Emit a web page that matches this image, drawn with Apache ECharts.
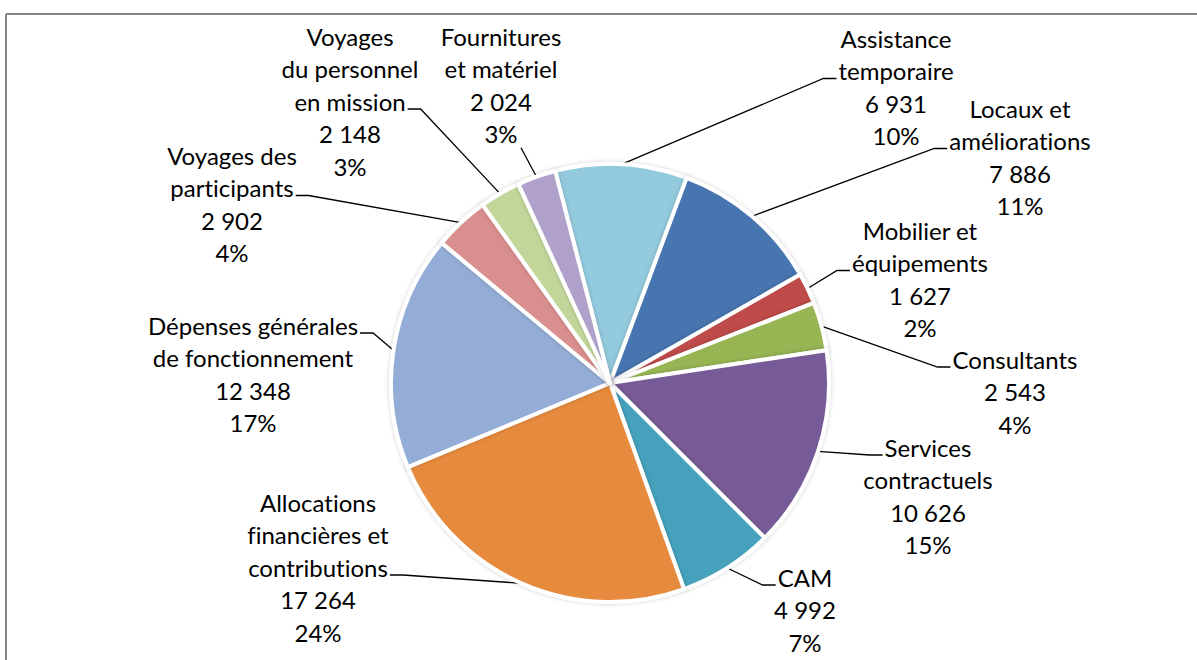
<!DOCTYPE html>
<html><head><meta charset="utf-8">
<script src="https://cdn.jsdelivr.net/npm/echarts@6/dist/echarts.min.js"></script>
<style>html,body{margin:0;padding:0;background:#fff}#c{width:1197px;height:660px}#c svg text{font-variant-ligatures:none;text-rendering:optimizeSpeed}</style>
</head><body><div id="c"></div>
<script>
const categories = ['Assistance temporaire','Locaux et améliorations','Mobilier et équipements','Consultants','Services contractuels','CAM','Allocations financières et contributions','Dépenses générales de fonctionnement','Voyages des participants','Voyages du personnel en mission','Fournitures et matériel'];
const values = [6931, 7886, 1627, 2543, 10626, 4992, 17264, 12348, 2902, 2148, 2024];
const wrappedNames = [['Assistance','temporaire'],['Locaux et','améliorations'],['Mobilier et','équipements'],['Consultants'],['Services','contractuels'],['CAM'],['Allocations','financières et','contributions'],['Dépenses générales','de fonctionnement'],['Voyages des','participants'],['Voyages','du personnel','en mission'],['Fournitures','et matériel']];
const colors = ['#93CADD','#4674B0','#BE4B48','#97B552','#775A98','#45A1BC','#E68A3E','#93ADD6','#D98F8E','#C2D69A','#AFA1C9'];

// label placement: centre x, first line centre y, line the leader joins, side it joins
const labelPlace = [
  {x: 896, y: 38, hook: 1, side: 'left'},
  {x: 1020, y: 108, hook: 1, side: 'left'},
  {x: 920, y: 230, hook: 1, side: 'left'},
  {x: 1015, y: 359, hook: 0, side: 'left'},
  {x: 928, y: 447, hook: 0, side: 'left'},
  {x: 805, y: 577, hook: 0, side: 'left'},
  {x: 318, y: 502, hook: 2, side: 'right'},
  {x: 253, y: 325, hook: 0, side: 'right'},
  {x: 232, y: 155, hook: 1, side: 'right'},
  {x: 350, y: 36, hook: 2, side: 'right'},
  {x: 501, y: 36, hook: 3, side: 'bottom'}
];

const FONT = 'Lato';
const FS = 24;
const LH = 32.5;
const ctx = document.createElement('canvas').getContext('2d');
ctx.font = FS + 'px ' + FONT;
try { ctx.textRendering = 'optimizeSpeed'; } catch (e) {}

function fmt(v) { return String(v).replace(/\B(?=(\d{3})+(?!\d))/g, ' '); }
function linesOf(i, pct) {
  return wrappedNames[i].concat([fmt(values[i]), pct + '%']);
}
const total = values.reduce((a, b) => a + b, 0);

const chart = echarts.init(document.getElementById('c'), null, {renderer: 'svg'});
chart.setOption({
  animation: false,
  graphic: [
    {type: 'line', shape: {x1: 6, y1: 14, x2: 1197, y2: 14}, style: {stroke: '#868686', lineWidth: 2}},
    {type: 'line', shape: {x1: 6, y1: 14, x2: 6, y2: 660}, style: {stroke: '#868686', lineWidth: 2}}
  ],
  series: [{
    type: 'pie',
    center: [610, 383],
    radius: 219,
    startAngle: 104.5,
    clockwise: true,
    avoidLabelOverlap: false,
    emphasis: {disabled: true},
    itemStyle: {borderColor: '#fff', borderWidth: 4, shadowBlur: 4, shadowColor: 'rgba(0,0,0,0.2)'},
    label: {
      show: true,
      position: 'outside',
      color: '#000',
      fontFamily: FONT,
      fontSize: FS,
      lineHeight: LH,
      align: 'center',
      formatter: p => linesOf(p.dataIndex, Math.round(p.value / total * 100)).join('\n')
    },
    labelLine: {show: true, lineStyle: {color: '#000', width: 1.3}},
    labelLayout: function (params) {
      const i = params.dataIndex;
      const pl = labelPlace[i];
      const lines = linesOf(i, Math.round(values[i] / total * 100));
      const start = params.labelLinePoints[0];
      const ly = pl.y + pl.hook * LH + 8;
      const w = ctx.measureText(lines[pl.hook]).width;
      let pts;
      if (pl.side === 'left') {
        const x2 = pl.x - w / 2 - 2;
        pts = [start, [x2 - 13, ly], [x2, ly]];
      } else if (pl.side === 'right') {
        const x2 = pl.x + w / 2 + 2;
        pts = [start, [x2 + 13, ly], [x2, ly]];
      } else {
        const by = pl.y + pl.hook * LH + LH / 2 - 2;
        pts = [start, [pl.x + 20, by], [pl.x + 20, by]];
      }
      return {
        x: pl.x,
        y: pl.y - LH / 2,
        align: 'center',
        verticalAlign: 'top',
        labelLinePoints: pts
      };
    },
    data: categories.map((n, i) => ({name: n, value: values[i], itemStyle: {color: colors[i]}}))
  }]
});
</script></body></html>
